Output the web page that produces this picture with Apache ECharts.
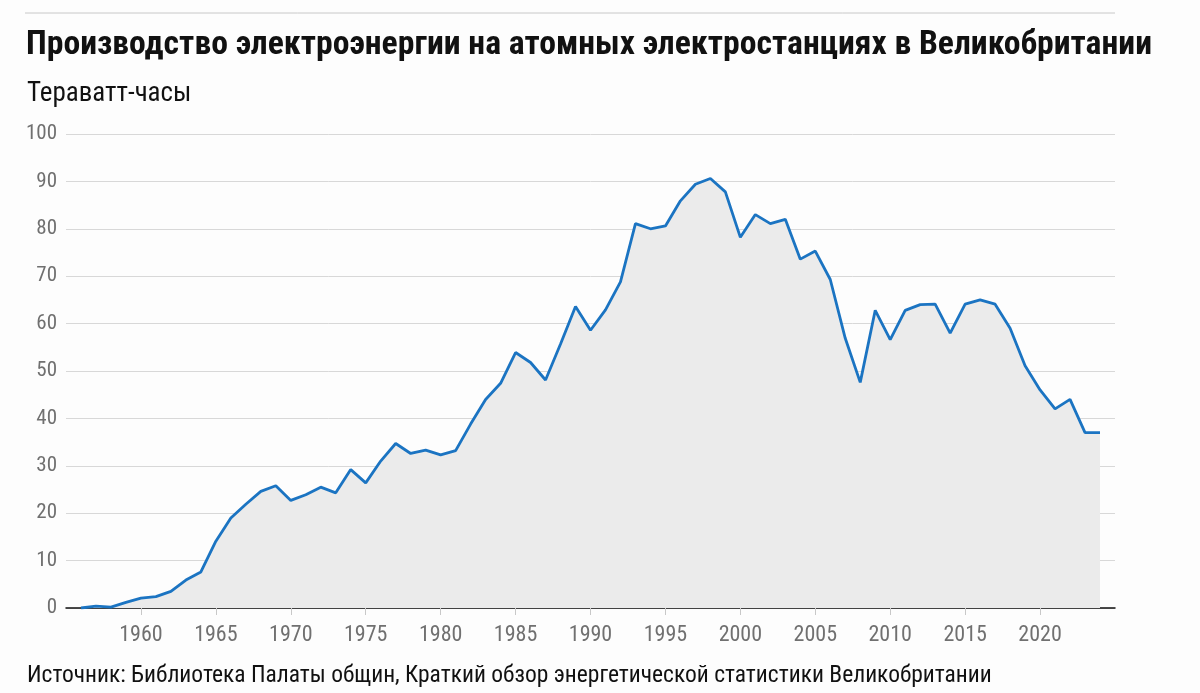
<!DOCTYPE html>
<html>
<head>
<meta charset="utf-8">
<script src="https://cdn.jsdelivr.net/npm/echarts@6/dist/echarts.min.js"></script>
<style>
html,body{margin:0;padding:0;background:#fdfdfd;}
#c{width:1200px;height:693px;}
</style>
</head>
<body>
<div id="c"></div>
<script>
const years = [1956,1957,1958,1959,1960,1961,1962,1963,1964,1965,1966,1967,1968,1969,1970,1971,1972,1973,1974,1975,1976,1977,1978,1979,1980,1981,1982,1983,1984,1985,1986,1987,1988,1989,1990,1991,1992,1993,1994,1995,1996,1997,1998,1999,2000,2001,2002,2003,2004,2005,2006,2007,2008,2009,2010,2011,2012,2013,2014,2015,2016,2017,2018,2019,2020,2021,2022,2023,2024];
const generationTWh = [0.0,0.4,0.2,1.2,2.1,2.4,3.5,5.9,7.6,14.1,19.0,21.9,24.6,25.8,22.7,23.9,25.5,24.3,29.2,26.4,31.0,34.7,32.6,33.3,32.3,33.2,38.8,44.0,47.4,53.9,51.8,48.1,55.7,63.6,58.6,62.9,68.8,81.1,80.0,80.6,85.9,89.4,90.6,87.8,78.2,83.0,81.1,82.0,73.6,75.3,69.3,56.9,47.6,62.8,56.6,62.8,64.0,64.1,58.0,64.1,65.0,64.1,59.0,51.1,46.0,42.0,44.0,37.0,37.0];
const xTickYears = [1960,1965,1970,1975,1980,1985,1990,1995,2000,2005,2010,2015,2020];
const titleText = 'Производство электроэнергии на атомных электростанциях в Великобритании';
const unitText = 'Тераватт-часы';
const sourceText = 'Источник: Библиотека Палаты общин, Краткий обзор энергетической статистики Великобритании';

const condensed = '"Roboto Condensed","Liberation Sans Narrow","DejaVu Sans Condensed","Arial Narrow",Roboto,sans-serif';
const chart = echarts.init(document.getElementById('c'), null, {renderer:'canvas'});
chart.setOption({
  backgroundColor:'#fdfdfd',
  animation:false,
  title:[
    {text:titleText,left:21,top:24,textStyle:{fontFamily:condensed,fontWeight:'bold',fontSize:33.7,color:'#111'}},
    {text:unitText,left:22,top:76,textStyle:{fontFamily:condensed,fontWeight:'normal',fontSize:27,color:'#111'}},
    {text:sourceText,left:22,top:659,textStyle:{fontFamily:condensed,fontWeight:'normal',fontSize:23.5,color:'#111'}}
  ],
  graphic:[
    {type:'line',shape:{x1:25,y1:13,x2:1115,y2:13},style:{stroke:'#c8c8c8',lineWidth:1}}
  ],
  grid:{left:66,right:85,top:134,bottom:85,containLabel:false},
  xAxis:{
    type:'value',min:1955,max:2025,interval:5,
    axisLine:{show:true,lineStyle:{color:'#111',width:1.5}},
    axisTick:{show:true,customValues:xTickYears,length:7,lineStyle:{color:'#c8c8c8',width:1}},
    axisLabel:{customValues:xTickYears,color:'#707070',fontFamily:condensed,fontSize:22,margin:16,formatter:v=>String(v)},
    splitLine:{show:false}
  },
  yAxis:{
    type:'value',min:0,max:100,interval:10,
    axisLine:{show:false},axisTick:{show:false},
    axisLabel:{color:'#707070',fontFamily:condensed,fontSize:21,margin:9},
    splitLine:{lineStyle:{color:'#d8d8d8',width:1}}
  },
  series:[{
    type:'line',
    data:years.map((y,i)=>[y,generationTWh[i]]),
    symbol:'none',
    lineStyle:{color:'#1b74c2',width:2.8},
    areaStyle:{color:'#ebebeb',opacity:1},
    z:3
  }]
});
</script>
</body>
</html>
